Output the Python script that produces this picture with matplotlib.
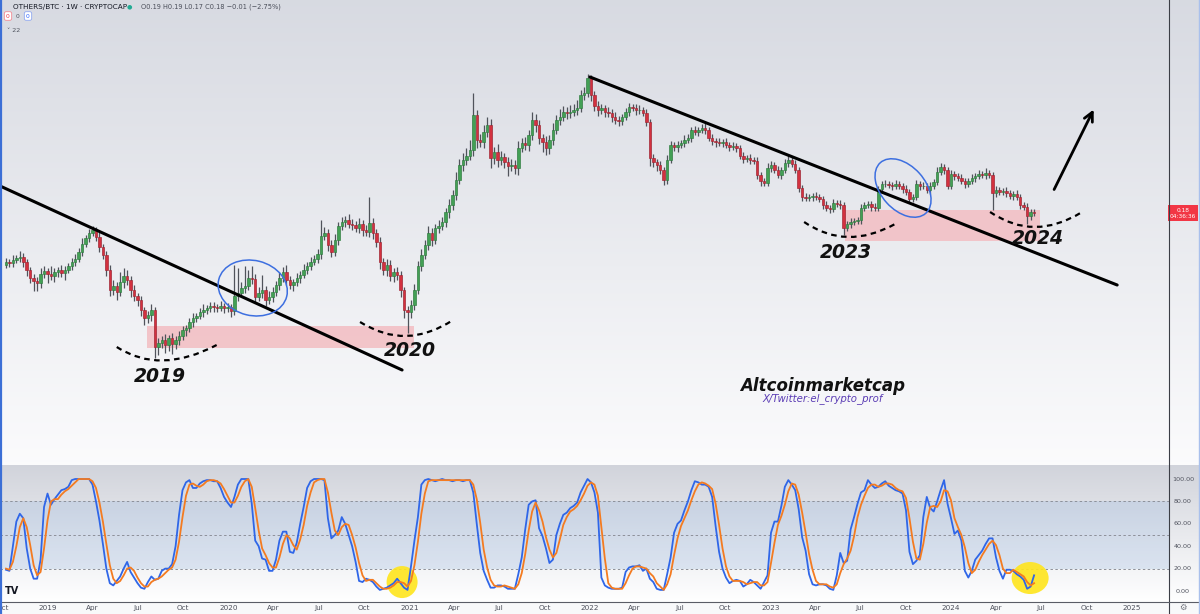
import numpy as np
import pandas as pd
import matplotlib
matplotlib.use('Agg')
import matplotlib.pyplot as plt
import matplotlib.dates as mdates
import matplotlib.transforms as mtransforms
from matplotlib.patches import Rectangle, Ellipse, PathPatch
from matplotlib.path import Path
from matplotlib.lines import Line2D

# ---- data (weekly candles OTHERS/BTC) ----
first_date = '2018-10-08'
first_open = 0.128
closes = [
    .131, .130, .133, .135, .136, .131, .123, .115, .112, .110,
    .119, .122, .119, .117, .121, .123, .120, .123, .127, .131,
    .134, .141, .149, .155, .160, .163, .156, .146, .138, .123,
    .103, .107, .101, .111, .117, .113, .103, .097, .093, .083,
    .075, .078, .083, .046, .050, .053, .048, .055, .049, .053,
    .057, .063, .065, .071, .075, .077, .081, .083, .085, .087,
    .086, .085, .087, .085, .086, .082, .097, .100, .105, .107,
    .115, .114, .096, .100, .103, .093, .096, .101, .108, .115,
    .121, .113, .108, .111, .115, .118, .123, .127, .131, .134,
    .139, .157, .160, .148, .141, .153, .167, .171, .173, .169,
    .168, .165, .169, .163, .161, .170, .160, .151, .131, .123,
    .128, .117, .121, .118, .103, .083, .081, .088, .103, .127,
    .138, .148, .160, .153, .165, .167, .171, .181, .188, .198,
    .213, .228, .233, .237, .243, .278, .253, .251, .261, .268,
    .235, .241, .233, .236, .231, .227, .228, .225, .245, .250,
    .248, .258, .273, .268, .255, .251, .245, .253, .263, .273,
    .276, .281, .280, .281, .283, .285, .298, .300, .315, .298,
    .287, .283, .285, .281, .280, .276, .273, .272, .276, .281,
    .286, .285, .283, .283, .280, .271, .235, .231, .228, .223,
    .213, .233, .248, .246, .248, .250, .253, .255, .263, .261,
    .263, .265, .263, .255, .252, .251, .250, .251, .248, .246,
    .247, .245, .237, .234, .235, .233, .232, .218, .212, .210,
    .225, .228, .223, .218, .223, .230, .233, .229, .223, .205,
    .196, .195, .196, .197, .196, .194, .188, .185, .184, .190,
    .189, .188, .165, .169, .171, .172, .173, .185, .188, .189,
    .186, .185, .204, .209, .209, .208, .207, .209, .207, .204,
    .201, .194, .196, .209, .207, .207, .203, .207, .211, .221,
    .226, .223, .207, .219, .217, .215, .212, .209, .212, .215,
    .217, .219, .218, .220, .218, .200, .203, .201, .202, .200,
    .197, .199, .196, .188, .186, .177, .181, .180,
]
# wick lengths above / below the body, in thousandths
upper_wick = [
    4, 3, 5, 3, 6, 4, 3, 3, 4, 4,   6, 5, 3, 8, 4, 3, 5, 4, 3, 4,
    5, 4, 6, 3, 4, 4, 3, 5, 3, 4,   5, 6, 4, 10, 8, 6, 4, 5, 3, 4,
    3, 4, 6, 3, 5, 4, 6, 3, 5, 4,   5, 4, 3, 4, 5, 3, 4, 6, 3, 4,
    4, 3, 5, 3, 4, 3, 31, 25, 6, 20,   8, 12, 5, 6, 15, 4, 6, 5, 4, 6,
    5, 7, 4, 3, 5, 4, 6, 4, 5, 4,   5, 16, 6, 4, 5, 6, 4, 5, 4, 6,
    5, 4, 6, 4, 5, 26, 5, 4, 5, 4,   6, 5, 4, 5, 4, 3, 4, 5, 6, 5,
    6, 5, 7, 5, 4, 6, 5, 4, 6, 5,   8, 6, 7, 8, 10, 22, 5, 6, 7, 8,
    6, 5, 8, 6, 4, 5, 6, 5, 7, 5,   6, 5, 8, 6, 5, 4, 6, 5, 7, 5,
    8, 6, 5, 7, 6, 8, 5, 6, 4, 3,   4, 5, 4, 3, 5, 4, 5, 4, 3, 4,
    4, 3, 4, 5, 3, 4, 3, 4, 3, 4,   3, 5, 4, 3, 4, 3, 5, 4, 3, 4,
    3, 4, 5, 3, 4, 3, 4, 3, 4, 3,   4, 3, 3, 4, 3, 4, 3, 4, 3, 3,
    5, 4, 3, 4, 3, 4, 5, 3, 4, 3,   3, 4, 3, 3, 4, 3, 3, 4, 3, 4,
    3, 4, 3, 3, 4, 3, 3, 4, 3, 3,   3, 4, 3, 3, 4, 3, 3, 4, 3, 3,
    4, 3, 3, 4, 3, 4, 3, 4, 3, 5,   4, 3, 3, 4, 3, 3, 4, 3, 3, 4,
    3, 4, 3, 5, 3, 3, 4, 3, 3, 4,   3, 3, 4, 3, 3, 4, 3, 3,
]
lower_wick = [
    3, 4, 4, 3, 4, 5, 6, 5, 10, 8,   5, 4, 9, 4, 6, 5, 4, 7, 3, 4,
    4, 3, 4, 3, 4, 3, 4, 5, 4, 6,   6, 5, 8, 4, 6, 5, 7, 5, 6, 6,
    7, 5, 6, 11, 8, 5, 8, 6, 10, 5,   5, 4, 6, 4, 5, 4, 3, 5, 4, 4,
    5, 4, 3, 5, 4, 6, 4, 5, 4, 5,   4, 5, 6, 4, 5, 6, 4, 5, 4, 5,
    4, 5, 4, 6, 4, 5, 3, 4, 4, 3,   4, 5, 4, 6, 5, 4, 5, 4, 5, 4,
    5, 4, 5, 6, 4, 5, 6, 5, 7, 5,   6, 5, 6, 5, 7, 8, 21, 6, 5, 4,
    5, 4, 5, 6, 4, 5, 4, 5, 6, 5,   5, 4, 6, 5, 4, 6, 8, 5, 6, 5,
    10, 6, 7, 5, 6, 10, 5, 6, 7, 4,   5, 6, 5, 7, 6, 10, 7, 6, 5, 4,
    5, 4, 6, 5, 4, 5, 4, 5, 4, 6,   5, 6, 4, 5, 4, 5, 4, 5, 4, 3,
    4, 3, 5, 4, 3, 4, 8, 5, 6, 4,   5, 4, 3, 4, 5, 3, 4, 3, 4, 3,
    4, 3, 4, 3, 4, 5, 3, 4, 3, 4,   3, 4, 3, 4, 3, 4, 3, 4, 5, 3,
    3, 4, 3, 3, 4, 3, 4, 3, 3, 4,   4, 3, 3, 4, 3, 3, 4, 3, 4, 3,
    3, 4, 7, 3, 4, 3, 3, 4, 3, 3,   4, 3, 3, 4, 3, 3, 4, 3, 3, 4,
    3, 4, 3, 3, 4, 3, 3, 4, 3, 3,   3, 4, 3, 3, 4, 3, 3, 4, 3, 3,
    4, 3, 3, 4, 3, 17, 4, 3, 3, 4,   3, 4, 3, 4, 3, 8, 4, 3,
]
# Stochastic RSI
stoch_k = [
    19, 18, 40, 62, 69, 65, 38, 20, 11, 11,   28, 75, 87, 77, 82, 86, 90, 91, 93, 99,
    100, 100, 100, 100, 100, 95, 80, 63, 42, 20,   7, 5, 9, 13, 20, 26, 17, 12, 7, 3,
    2, 8, 13, 10, 11, 18, 20, 20, 24, 40,   68, 90, 97, 99, 92, 92, 96, 98, 99, 99,
    98, 98, 92, 84, 79, 75, 84, 95, 100, 100,   100, 78, 45, 40, 29, 28, 18, 18, 28, 45,
    53, 53, 35, 34, 43, 60, 75, 92, 98, 100,   100, 100, 99, 65, 47, 50, 54, 66, 60, 50,
    40, 26, 9, 8, 11, 10, 8, 4, 1, 2,   3, 5, 7, 11, 7, 3, 1, 22, 45, 66,
    95, 99, 100, 99, 98, 99, 100, 99, 99, 98,   99, 99, 98, 99, 99, 88, 60, 34, 18, 10,
    3, 3, 5, 5, 4, 2, 2, 2, 15, 30,   55, 77, 80, 81, 56, 49, 38, 25, 28, 50,
    60, 68, 70, 74, 76, 79, 88, 94, 100, 97,   88, 70, 12, 5, 3, 2, 2, 2, 3, 17,
    21, 22, 22, 23, 18, 20, 11, 8, 2, 1,   1, 15, 30, 52, 60, 63, 72, 80, 90, 98,
    97, 95, 95, 93, 84, 58, 35, 20, 12, 7,   9, 10, 9, 4, 6, 10, 8, 5, 2, 8,
    14, 52, 62, 62, 76, 93, 99, 95, 90, 73,   48, 36, 15, 6, 5, 6, 6, 5, 2, 1,
    14, 34, 25, 27, 55, 66, 78, 88, 90, 99,   95, 92, 93, 96, 98, 94, 92, 90, 89, 87,
    72, 35, 24, 27, 32, 66, 84, 74, 71, 80,   90, 99, 78, 65, 51, 54, 45, 18, 12, 18,
    28, 32, 36, 42, 47, 47, 30, 18, 11, 19,   19, 18, 15, 13, 10, 2, 4, 14,
]
stoch_d = [
    20, 19, 26, 40, 57, 65, 57, 41, 23, 14,   17, 38, 63, 80, 82, 82, 86, 89, 91, 94,
    97, 100, 100, 100, 100, 98, 92, 79, 62, 42,   23, 11, 7, 9, 14, 20, 21, 18, 12, 7,
    4, 4, 8, 10, 11, 13, 16, 19, 21, 28,   44, 66, 85, 95, 96, 94, 93, 95, 98, 99,
    99, 98, 96, 91, 85, 79, 79, 85, 93, 98,   100, 93, 74, 54, 38, 32, 25, 21, 21, 30,
    42, 50, 47, 41, 37, 46, 59, 76, 88, 97,   99, 100, 100, 88, 70, 54, 50, 57, 60, 59,
    50, 39, 25, 14, 9, 10, 10, 7, 4, 2,   2, 3, 5, 8, 8, 7, 4, 9, 23, 44,
    69, 87, 98, 99, 99, 99, 99, 99, 99, 99,   99, 99, 99, 99, 99, 95, 82, 61, 37, 21,
    10, 5, 4, 4, 5, 4, 3, 2, 6, 16,   33, 54, 71, 79, 72, 62, 48, 37, 30, 34,
    46, 59, 66, 71, 73, 76, 81, 87, 94, 97,   95, 85, 57, 29, 7, 3, 2, 2, 2, 7,
    14, 20, 22, 22, 21, 20, 16, 13, 7, 4,   1, 6, 15, 32, 47, 58, 65, 72, 81, 89,
    95, 97, 96, 94, 91, 78, 59, 38, 22, 13,   9, 9, 9, 8, 6, 7, 8, 8, 5, 5,
    8, 25, 43, 59, 67, 77, 89, 96, 95, 86,   70, 52, 33, 19, 9, 6, 6, 6, 4, 3,
    6, 16, 24, 29, 36, 49, 66, 77, 85, 92,   95, 95, 93, 94, 96, 96, 95, 92, 90, 89,
    83, 65, 44, 29, 28, 42, 61, 75, 76, 75,   80, 90, 89, 81, 65, 57, 50, 39, 25, 16,
    19, 26, 32, 37, 42, 45, 41, 32, 20, 16,   16, 19, 17, 15, 13, 8, 5, 7,
]
stoch_levels = [100, 80, 60, 40, 20, 0]

tick_dates = ['2018-10-01', '2019-01-01', '2019-04-01', '2019-07-01', '2019-10-01',
              '2020-01-01', '2020-04-01', '2020-07-01', '2020-10-01',
              '2021-01-01', '2021-04-01', '2021-07-01', '2021-10-01',
              '2022-01-01', '2022-04-01', '2022-07-01', '2022-10-01',
              '2023-01-01', '2023-04-01', '2023-07-01', '2023-10-01',
              '2024-01-01', '2024-04-01', '2024-07-01', '2024-10-01', '2025-01-01']
tick_labels = ['Oct', '2019', 'Apr', 'Jul', 'Oct', '2020', 'Apr', 'Jul', 'Oct',
               '2021', 'Apr', 'Jul', 'Oct', '2022', 'Apr', 'Jul', 'Oct',
               '2023', 'Apr', 'Jul', 'Oct', '2024', 'Apr', 'Jul', 'Oct', '2025']

# ---- figure / layout ----
W, H = 1200, 614
fig = plt.figure(figsize=(W / 100, H / 100), dpi=100)

# background gradients
grad = np.zeros((H, 1, 3))
top, bot = np.array([0.845, 0.855, 0.885]), np.array([0.985, 0.985, 0.99])
t = np.linspace(0, 1, 465)[:, None]
grad[:465, 0] = top * (1 - t) + bot * t
top2, bot2 = np.array([0.82, 0.83, 0.86]), np.array([1.0, 1.0, 1.0])
t2 = np.linspace(0, 1, 602 - 465)[:, None]
grad[465:602, 0] = top2 * (1 - t2) + bot2 * t2
grad[602:, 0] = [0.975, 0.977, 0.982]
bg = fig.add_axes([0, 0, 1, 1], zorder=-5)
bg.imshow(grad, aspect='auto', extent=[0, 1, 0, 1], interpolation='bilinear')
bg.axis('off')

ax = fig.add_axes([0, 1 - 465 / H, 1169 / W, 465 / H])
ax2 = fig.add_axes([0, 12 / H, 1169 / W, (602 - 465) / H], sharex=ax)
for a in (ax, ax2):
    a.patch.set_visible(False)
    for s in a.spines.values():
        s.set_visible(False)
    a.tick_params(left=False, right=False, labelleft=False, bottom=False, top=False)

# ---- candles ----
dates = pd.date_range(first_date, periods=len(closes), freq='7D')
xs = mdates.date2num(dates)
c = np.array(closes)
o = np.r_[first_open, c[:-1]]
hi = np.maximum(o, c) + np.array(upper_wick) / 1000
lo = np.minimum(o, c) - np.array(lower_wick) / 1000
rising = c >= o
face = np.where(rising, '#43a055', '#d3313f')
edge = np.where(rising, '#2c7a3c', '#9e2230')

ax.vlines(xs, lo, hi, color='#50535b', lw=0.9, zorder=3)
ax.bar(xs, np.abs(c - o), bottom=np.minimum(o, c), width=5.0, color=face,
       edgecolor=edge, linewidth=0.45, zorder=4)

px_day = 1084 / 2192
x_ref = mdates.datestr2num('2019-01-01')
ax.set_xlim(x_ref - 48 / px_day, x_ref + (1169 - 48) / px_day)
ax.set_ylim(-0.072, 0.393)

d = mdates.datestr2num

# ---- drawings ----
ax.add_patch(Rectangle((d('2019-07-20'), 0.045), d('2021-01-10') - d('2019-07-20'), 0.022,
                       facecolor='#f3c0c5', edgecolor='none', alpha=0.9, zorder=2))
ax.add_patch(Rectangle((d('2023-06-01'), 0.152), d('2024-06-29') - d('2023-06-01'), 0.031,
                       facecolor='#f3c0c5', edgecolor='none', alpha=0.9, zorder=2))

ax.plot([d('2018-09-26'), d('2020-12-17')], [0.207, 0.023], color='black', lw=2.2, zorder=6,
        solid_capstyle='round')
ax.plot([d('2022-01-01'), d('2024-12-02')], [0.316, 0.108], color='black', lw=2.2, zorder=6,
        solid_capstyle='round')

arcs = [(('2019-05-20', 0.046), ('2019-08-15', 0.018), ('2019-12-08', 0.048)),
        (('2020-09-23', 0.071), ('2020-12-25', 0.042), ('2021-03-30', 0.073)),
        (('2023-03-10', 0.171), ('2023-06-03', 0.142), ('2023-09-10', 0.169)),
        (('2024-03-20', 0.181), ('2024-06-17', 0.151), ('2024-09-22', 0.181))]
for p0, p1, p2 in arcs:
    verts = [(d(p0[0]), p0[1]), (d(p1[0]), p1[1]), (d(p2[0]), p2[1])]
    path = Path(verts, [Path.MOVETO, Path.CURVE3, Path.CURVE3])
    ax.add_patch(PathPatch(path, fill=False, color='black', lw=1.6,
                           ls=(0, (2.5, 2)), zorder=6))

for label, dt, yv in [('2019', '2019-08-15', 0.016), ('2020', '2021-01-02', 0.043),
                      ('2023', '2023-06-03', 0.141), ('2024', '2024-06-25', 0.155)]:
    ax.text(d(dt), yv, label, ha='center', va='center', fontsize=13.5,
            fontweight='bold', fontstyle='italic', color='#111111', zorder=7)


def px_ellipse(a, dt, yv, w, h, angle, **kw):
    tr = fig.dpi_scale_trans + mtransforms.ScaledTranslation(d(dt), yv, a.transData)
    a.add_patch(Ellipse((0, 0), w / 100, h / 100, angle=angle, transform=tr, **kw))


px_ellipse(ax, '2020-02-19', 0.105, 70, 55, -14, fill=False, ec='#3d6fe0', lw=1.1, zorder=7)
px_ellipse(ax, '2023-09-26', 0.205, 68, 44, -48, fill=False, ec='#3d6fe0', lw=1.1, zorder=7)

ax.annotate('', xy=(d('2024-10-18'), 0.286), xytext=(d('2024-07-25'), 0.201),
            arrowprops=dict(arrowstyle='->', lw=2, color='black', mutation_scale=16),
            zorder=7)

ax.text(d('2023-04-17'), 0.007, 'Altcoinmarketcap', ha='center', va='center',
        fontsize=12, fontweight='bold', fontstyle='italic', color='#111111')
ax.text(d('2023-04-17'), -0.0055, 'X/Twitter:el_crypto_prof', ha='center', va='center',
        fontsize=7.3, fontstyle='italic', color='#5b3db5')

# price label on the right scale
ax.text(1 + 14 / 1169, 0.1855, '0.18\n04:36:36', transform=ax.get_yaxis_transform(),
        ha='center', va='top', fontsize=4.2, color='white', linespacing=1.4,
        bbox=dict(boxstyle='square,pad=0.35', fc='#f23645', ec='none'), clip_on=False)

# ---- stochastic pane ----
ax2.set_ylim(-9.8, 112.5)
ax2.axhspan(20, 80, facecolor='#8fb1de', alpha=0.25, lw=0, zorder=0)
for lvl in (80, 50, 20):
    ax2.axhline(lvl, color='#8d9099', lw=0.7, ls=(0, (2.5, 2.5)), zorder=1)
px_ellipse(ax2, '2020-12-17', 8, 31, 32, 0, fc='#ffe51c', ec='none', alpha=0.9, zorder=2)
px_ellipse(ax2, '2024-06-09', 11.6, 37, 32, 0, fc='#ffe51c', ec='none', alpha=0.9, zorder=2)
ax2.plot(xs, stoch_k, color='#2f66e8', lw=1.3, zorder=3)
ax2.plot(xs, stoch_d, color='#f47b20', lw=1.3, zorder=4)
for v in stoch_levels:
    ax2.text(1 + 14 / 1169, v, f'{v:.2f}', transform=ax2.get_yaxis_transform(),
             ha='center', va='center', fontsize=4.6, color='#50535e', clip_on=False)

ax2.set_xticks([d(s) for s in tick_dates])
ax2.set_xticklabels(tick_labels)
ax2.tick_params(axis='x', length=0, pad=2.0, labelsize=5.2, labelcolor='#4c4f5a',
                labelbottom=True)
ax.tick_params(axis='x', labelbottom=False)

# ---- frame lines and header ----
fig.add_artist(Line2D([1169 / W, 1169 / W], [0, 1], color='#3b3e46', lw=0.8))
fig.add_artist(Line2D([0, 1], [12 / H, 12 / H], color='#5a5d66', lw=0.8))
fig.add_artist(Line2D([0.0008, 0.0008], [0, 1], color='#3c6fd6', lw=1.6))
fig.add_artist(Line2D([0.9994, 0.9994], [0, 1], color='#a9c0ec', lw=1.0))


def fx(x):
    return x / W


def fy(y):
    return 1 - y / H


fig.text(fx(13), fy(6.5), 'OTHERS/BTC \u00b7 1W \u00b7 CRYPTOCAP', fontsize=5.2,
         color='#131722', va='center')
fig.text(fx(129), fy(6.5), '\u25cf', fontsize=4.5, color='#22ab94', va='center', ha='center')
fig.text(fx(141), fy(6.5), 'O0.19 H0.19 L0.17 C0.18 \u22120.01 (\u22122.75%)', fontsize=4.8,
         color='#4a4e59', va='center')
fig.text(fx(8), fy(16), '0', fontsize=4.3, color='#f23645', va='center', ha='center',
         bbox=dict(boxstyle='round,pad=0.3', fc='white', ec='#f28a93', lw=0.6))
fig.text(fx(18), fy(16), '0', fontsize=4.3, color='#50535e', va='center', ha='center')
fig.text(fx(28), fy(16), '0', fontsize=4.3, color='#2962ff', va='center', ha='center',
         bbox=dict(boxstyle='round,pad=0.3', fc='white', ec='#8fa8f0', lw=0.6))
fig.text(fx(7), fy(31), '\u02c5 22', fontsize=4.6, color='#50535e', va='center')
fig.text(fx(12), fy(591), 'TV', fontsize=7, fontweight='bold', color='#131722',
         va='center', ha='center')
fig.text(fx(1183), fy(607), '\u2699', fontsize=6, color='#70737c', va='center', ha='center')

fig.savefig('out.png', dpi=100)
